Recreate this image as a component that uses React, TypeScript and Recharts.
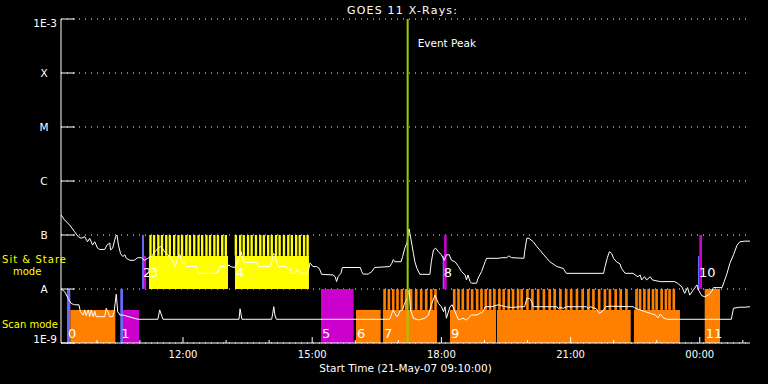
import React from 'react';
import {
  ComposedChart,
  Line,
  XAxis,
  YAxis,
  CartesianGrid,
  ReferenceArea,
  ReferenceLine,
} from 'recharts';

// time axis: minutes after 21-May-07 09:10:00
const hourTicks = [50, 110, 170, 230, 290, 350, 410, 470, 530, 590, 650, 710, 770, 830, 890, 950];
const hourLabels = ['', '', '12:00', '', '', '15:00', '', '', '18:00', '', '', '21:00', '', '', '00:00', ''];

const levelTicks = [1e-9, 1e-8, 1e-7, 1e-6, 1e-5, 1e-4, 1e-3];
const levelLabels = ['1E-9', 'A', 'B', 'C', 'M', 'X', '1E-3'];

const EVENT_PEAK = 483;

// 1-8 A channel
const longT = [
  0, 5, 12, 19, 24, 28, 33, 37, 40, 44, 47, 51, 54, 61, 64, 68, 69, 72, 76, 78, 80, 83, 86, 89, 91, 96,
  102, 107, 112, 116, 121, 126, 131, 135, 140, 144, 149, 155, 159, 161, 164, 166, 168, 172, 175, 189, 191,
  215, 219, 221, 226, 231, 234, 236, 242, 244, 248, 251, 253, 256, 273, 275, 291, 294, 296, 298, 300, 303,
  314, 317, 320, 321, 326, 328, 335, 342, 345, 347, 351, 356, 360, 363, 379, 382, 384, 386, 390, 392, 417,
  419, 421, 428, 433, 437, 458, 461, 463, 465, 474, 476, 479, 482, 484, 485, 489, 491, 493, 496, 500, 514,
  516, 519, 522, 526, 530, 534, 537, 541, 544, 549, 554, 558, 563, 565, 567, 570, 572, 579, 581, 586, 591,
  593, 609, 614, 621, 624, 628, 645, 646, 649, 652, 658, 663, 667, 672, 677, 681, 691, 700, 704, 756, 758,
  761, 764, 767, 770, 774, 779, 781, 786, 797, 801, 804, 807, 809, 813, 816, 821, 824, 835, 855, 859, 865,
  869, 873, 876, 881, 886, 889, 893, 897, 902, 907, 909, 921, 924, 928, 932, 937, 942, 946, 953, 960,
];
const longF = [
  2.35e-7, 1.9e-7, 1.53e-7, 1.15e-7, 9.3e-8, 8.7e-8, 9.3e-8, 7.5e-8, 8.7e-8, 6.5e-8, 7.5e-8, 5.7e-8, 5.4e-8,
  5.4e-8, 6.5e-8, 7.1e-8, 5.3e-8, 5.7e-8, 9.3e-8, 1.0e-7, 6.5e-8, 4.5e-8, 4.0e-8, 4.3e-8, 3.7e-8, 3.4e-8,
  3.4e-8, 3.8e-8, 3.8e-8, 3.4e-8, 3.7e-8, 4.0e-8, 4.9e-8, 5.7e-8, 6.2e-8, 4.9e-8, 4.3e-8, 3.4e-8, 2.6e-8,
  3.2e-8, 4.3e-8, 4.3e-8, 3.2e-8, 3.0e-8, 2.6e-8, 2.6e-8, 1.95e-8, 1.95e-8, 2.1e-8, 2.6e-8, 2.6e-8, 2.5e-8,
  2.8e-8, 2.6e-8, 2.5e-8, 2.8e-8, 3.7e-8, 4.9e-8, 3.7e-8, 3.1e-8, 3.1e-8, 2.6e-8, 2.6e-8, 3.4e-8, 4.6e-8,
  4.3e-8, 3.2e-8, 2.6e-8, 2.6e-8, 2.25e-8, 2.4e-8, 1.95e-8, 1.95e-8, 2.25e-8, 1.95e-8, 1.95e-8, 2.25e-8,
  3.05e-8, 2.6e-8, 2.6e-8, 2.4e-8, 1.87e-8, 1.82e-8, 1.69e-8, 1.37e-8, 1.69e-8, 1.95e-8, 2.5e-8, 2.5e-8,
  2.1e-8, 1.89e-8, 1.89e-8, 2.1e-8, 2.5e-8, 2.6e-8, 3.0e-8, 3.5e-8, 3.2e-8, 3.2e-8, 4.0e-8, 5.7e-8, 7.1e-8,
  1.1e-7, 1.3e-7, 6.5e-8, 4.6e-8, 3.2e-8, 2.4e-8, 1.87e-8, 1.87e-8, 3.2e-8, 5.3e-8, 5.7e-8, 4.9e-8, 4.3e-8,
  3.4e-8, 4.3e-8, 4.3e-8, 3.4e-8, 3.2e-8, 2.6e-8, 2.1e-8, 1.82e-8, 1.47e-8, 1.82e-8, 1.37e-8, 1.28e-8,
  1.28e-8, 1.58e-8, 2.1e-8, 3.2e-8, 3.7e-8, 3.7e-8, 3.8e-8, 3.8e-8, 4.1e-8, 3.8e-8, 3.7e-8, 4.9e-8, 8.7e-8,
  8.7e-8, 7.5e-8, 6.1e-8, 5.3e-8, 4.4e-8, 3.7e-8, 3.2e-8, 2.6e-8, 2.4e-8, 1.95e-8, 1.95e-8, 2.6e-8, 3.7e-8,
  4.9e-8, 4.6e-8, 3.7e-8, 3.2e-8, 2.9e-8, 2.4e-8, 1.95e-8, 1.95e-8, 1.78e-8, 1.69e-8, 1.82e-8, 1.47e-8,
  1.69e-8, 1.47e-8, 1.69e-8, 1.47e-8, 1.37e-8, 1.37e-8, 1.28e-8, 1.1e-8, 8.3e-9, 1.06e-8, 7.7e-9, 9.6e-9,
  1.19e-8, 9.2e-9, 7.5e-9, 7.2e-9, 7.7e-9, 9.2e-9, 1.06e-8, 1.06e-8, 1.37e-8, 1.95e-8, 3.0e-8, 4.3e-8,
  6.5e-8, 7.5e-8, 7.7e-8, 7.7e-8,
];

// 0.5-4 A channel
const shortT = [
  0, 5, 10, 14, 19, 25, 27, 31, 33, 35, 38, 40, 42, 45, 47, 49, 61, 63, 66, 68, 72, 74, 77, 79, 82, 86, 107,
  135, 137.5, 140, 142, 248, 249.5, 251, 252, 293.5, 295, 296.5, 298, 300, 458, 461, 463, 465, 468, 470, 472,
  476, 478, 480, 482, 485, 487, 491, 498, 507, 512, 516, 521, 526, 530, 533, 535, 537, 542, 545, 549, 554,
  560, 565, 572, 579, 584, 588, 591, 600, 609, 619, 628, 641, 646, 649, 653, 656, 658, 691, 693, 695, 700,
  704, 732, 735, 737, 746, 750, 755, 759, 765, 797, 800, 807, 814, 821, 828, 832, 835, 839, 844, 934, 937,
  946, 953, 960,
];
const shortF = [
  1.0e-8, 9.0e-9, 6.7e-9, 5.4e-9, 5.1e-9, 5.1e-9, 3.8e-9, 3.3e-9, 4.1e-9, 3.2e-9, 4.1e-9, 3.07e-9, 4.1e-9,
  3.07e-9, 3.9e-9, 3.07e-9, 3.07e-9, 4.4e-9, 3.6e-9, 3.07e-9, 3.07e-9, 3.8e-9, 8.0e-9, 3.8e-9, 3.3e-9,
  3.3e-9, 2.75e-9, 2.75e-9, 4.1e-9, 3.3e-9, 2.75e-9, 2.75e-9, 4.3e-9, 3.3e-9, 2.75e-9, 2.75e-9, 3.55e-9,
  4.7e-9, 3.3e-9, 2.75e-9, 2.75e-9, 3.55e-9, 4.1e-9, 3.55e-9, 3.07e-9, 3.3e-9, 3.9e-9, 4.1e-9, 5.1e-9,
  5.8e-9, 6.7e-9, 9.6e-9, 4.1e-9, 2.87e-9, 2.67e-9, 2.87e-9, 3.3e-9, 5.1e-9, 7.7e-9, 5.4e-9, 4.7e-9, 3.8e-9,
  4.7e-9, 2.87e-9, 4.7e-9, 5.1e-9, 3.8e-9, 2.67e-9, 2.87e-9, 2.67e-9, 3.3e-9, 3.3e-9, 3.55e-9, 3.8e-9,
  4.7e-9, 4.7e-9, 5.1e-9, 4.7e-9, 4.55e-9, 4.7e-9, 4.7e-9, 6.7e-9, 6.7e-9, 5.8e-9, 4.7e-9, 4.7e-9, 4.3e-9,
  4.55e-9, 4.4e-9, 4.7e-9, 4.7e-9, 4.3e-9, 4.7e-9, 4.3e-9, 3.55e-9, 3.9e-9, 4.7e-9, 4.8e-9, 4.7e-9, 4.4e-9,
  4.1e-9, 3.8e-9, 3.55e-9, 3.3e-9, 2.94e-9, 3.45e-9, 2.94e-9, 2.75e-9, 2.75e-9, 4.4e-9, 4.6e-9, 4.6e-9,
  4.7e-9,
];

// observing blocks
const blockStart = [8.4, 13, 82.6, 86.4, 362.3, 411, 448.6, 542, 607.5, 798.3, 896.9, 112.9, 115.6, 122.6, 242.4, 531.8, 533.7, 887.5, 889.3];
const blockEnd = [13, 75.7, 86.4, 108.7, 407.8, 445.4, 523.9, 606.1, 793.8, 862.4, 918.2, 115.6, 118.4, 232.7, 345.5, 533.7, 537.4, 889.3, 893.1];
const blockMode = ['scan', 'scan', 'scan', 'scan', 'scan', 'scan', 'scan', 'scan', 'scan', 'scan', 'scan', 'stare', 'stare', 'stare', 'stare', 'stare', 'stare', 'stare', 'stare'];
const blockKind = ['blue', 'orange', 'blue', 'magenta', 'magenta', 'orange', 'orange', 'orange', 'orange', 'orange', 'orange', 'blue', 'magenta', 'yellow', 'yellow', 'blue', 'magenta', 'blue', 'magenta'];
const blockTall = [true, false, true, false, true, false, false, false, false, false, true, true, false, false, false, false, true, false, true];
const blockLabel = ['0', '', '1', '', '5', '6', '7', '9', '', '', '11', '2', '', '3', '4', '8', '', '10', ''];

// single exposures (start minute)
const stareExposures = [
  123, 128, 134, 139, 145, 150, 156, 162, 167, 173, 178, 184, 190, 195, 201, 206, 212, 217, 223, 228,
  242, 248, 253, 259, 264, 270, 276, 281, 287, 292, 298, 303, 309, 315, 320, 326, 331, 337, 342,
];
const scanExposures = [
  449, 455, 461, 467, 473, 479, 486, 493, 500, 507, 514, 520,
  546, 552, 558, 565, 571, 578, 584, 590, 596, 602, 609, 615, 622, 628, 635, 640, 648, 655, 663, 671, 679,
  686, 694, 702, 709, 717, 725, 733, 740, 748, 756, 763, 771, 778, 786, 800, 805, 811, 817, 823, 828, 835,
  841, 846, 852,
];

const COLORS: Record<string, string> = {
  blue: '#6a6aff',
  magenta: '#cc00cc',
  orange: '#ff8000',
  yellow: '#ffff00',
};
const BAND_BASE: Record<string, number> = { scan: 1e-9, stare: 1e-8 };
const BAND_MID: Record<string, number> = { scan: 4.1e-9, stare: 4.1e-8 };
const BAND_TOP: Record<string, number> = { scan: 1e-8, stare: 1e-7 };

const FONT = '"DejaVu Sans", sans-serif';

function BottomTick(props: any) {
  const { x, y, payload } = props;
  const label = hourLabels[hourTicks.indexOf(payload.value)];
  const len = label ? 6 : 3;
  return (
    <g>
      <line x1={x} y1={y} x2={x} y2={y - len} stroke="#fff" />
      {label && (
        <text x={x} y={y + 15} textAnchor="middle" fill="#fff" fontSize={10} fontFamily={FONT}>
          {label}
        </text>
      )}
    </g>
  );
}

function TopTick(props: any) {
  const { x, y, payload } = props;
  const label = hourLabels[hourTicks.indexOf(payload.value)];
  const len = label ? 6 : 3;
  return <line x1={x} y1={y} x2={x} y2={y + len} stroke="#fff" />;
}

function LeftTick(props: any) {
  const { x, y, payload } = props;
  const i = levelTicks.indexOf(payload.value);
  const label = levelLabels[i];
  const numeric = label.startsWith('1E');
  let ty = y + 4;
  if (label === '1E-3') ty = y + 8;
  if (label === '1E-9') ty = y;
  return (
    <g>
      <line x1={x} y1={y} x2={x + 14} y2={y} stroke="#fff" />
      <text
        x={numeric ? x - 4 : x - 17}
        y={ty}
        textAnchor={numeric ? 'end' : 'middle'}
        fill="#ffffff"
        fontSize={10.5}
        fontFamily={FONT}
      >
        {label}
      </text>
    </g>
  );
}

function RightTick(props: any) {
  const { x, y } = props;
  return <line x1={x} y1={y} x2={x - 14} y2={y} stroke="#fff" />;
}

const numberLabel = (text: string, mode: string) => (props: any) => {
  const vb = props.viewBox;
  if (!vb || !text) return null;
  return (
    <text
      x={vb.x + 1}
      y={vb.y + vb.height - (mode === 'scan' ? 5 : 12)}
      fill="#fff"
      fontSize={13}
      fontFamily={FONT}
    >
      {text}
    </text>
  );
};

export default function App() {
  const longData = longT.map((t, i) => ({ t, f: longF[i] }));
  const shortData = shortT.map((t, i) => ({ t, f: shortF[i] }));

  return (
    <div style={{ position: 'absolute', left: 0, top: 0, width: 768, height: 384, background: '#000', overflow: 'hidden' }}>
      <ComposedChart width={768} height={384} margin={{ top: 19, right: 18, bottom: 0, left: 0 }}>
        <CartesianGrid vertical={false} stroke="#fff" strokeDasharray="1 5" />
        <XAxis
          dataKey="t"
          type="number"
          domain={[0, 960]}
          ticks={hourTicks}
          interval={0}
          height={41}
          tickSize={0}
          tickMargin={0}
          stroke="#fff"
          tick={(p: any) => <BottomTick {...p} />}
          allowDataOverflow
          label={{ value: 'Start Time (21-May-07 09:10:00)', position: 'insideBottom', offset: 12, fill: '#fff', fontSize: 10.5, fontFamily: FONT }}
        />
        <XAxis
          xAxisId="top"
          orientation="top"
          dataKey="t"
          type="number"
          domain={[0, 960]}
          ticks={hourTicks}
          interval={0}
          height={0}
          tickSize={0}
          tickMargin={0}
          stroke="#fff"
          tick={(p: any) => <TopTick {...p} />}
          allowDataOverflow
        />
        <YAxis
          type="number"
          scale="log"
          domain={[1e-9, 1e-3]}
          ticks={levelTicks}
          interval={0}
          width={61}
          tickSize={0}
          tickMargin={0}
          stroke="#fff"
          tick={(p: any) => <LeftTick {...p} />}
          allowDataOverflow
        />
        <YAxis
          yAxisId="right"
          orientation="right"
          type="number"
          scale="log"
          domain={[1e-9, 1e-3]}
          ticks={levelTicks}
          interval={0}
          width={0}
          tickSize={0}
          tickMargin={0}
          stroke="#fff"
          tick={(p: any) => <RightTick {...p} />}
          allowDataOverflow
        />

        {blockStart.map((s, i) => (
          <ReferenceArea
            key={`b${i}`}
            x1={s}
            x2={blockEnd[i]}
            y1={BAND_BASE[blockMode[i]]}
            y2={blockTall[i] ? BAND_TOP[blockMode[i]] : BAND_MID[blockMode[i]]}
            fill={COLORS[blockKind[i]]}
            fillOpacity={1}
            stroke="none"
          />
        ))}
        {stareExposures.map((s, i) => (
          <ReferenceArea
            key={`y${i}`}
            x1={s}
            x2={s + 3.3}
            y1={BAND_MID.stare}
            y2={BAND_TOP.stare}
            fill={COLORS.yellow}
            fillOpacity={1}
            stroke="none"
          />
        ))}
        {scanExposures.map((s, i) => (
          <ReferenceArea
            key={`o${i}`}
            x1={s}
            x2={s + 3.7}
            y1={BAND_MID.scan}
            y2={BAND_TOP.scan}
            fill={COLORS.orange}
            fillOpacity={1}
            stroke="none"
          />
        ))}
        {/* block numbers, drawn after all fills so none get covered */}
        {blockStart.map((s, i) =>
          blockLabel[i] ? (
            <ReferenceArea
              key={`l${i}`}
              x1={s}
              x2={blockEnd[i]}
              y1={BAND_BASE[blockMode[i]]}
              y2={BAND_MID[blockMode[i]]}
              fillOpacity={0}
              stroke="none"
              label={numberLabel(blockLabel[i], blockMode[i])}
            />
          ) : null
        )}

        <Line data={longData} dataKey="f" type="linear" stroke="#fff" strokeWidth={1} dot={false} isAnimationActive={false} />
        <Line data={shortData} dataKey="f" type="linear" stroke="#fff" strokeWidth={1} dot={false} isAnimationActive={false} />

        <ReferenceLine
          x={EVENT_PEAK}
          stroke="#99cc00"
          strokeWidth={2}
          label={(p: any) => (
            <text x={p.viewBox.x + 10} y={p.viewBox.y + 28} fill="#fff" fontSize={10.5} fontFamily={FONT}>
              Event Peak
            </text>
          )}
        />
      </ComposedChart>

      <svg width={768} height={384} style={{ position: 'absolute', left: 0, top: 0, pointerEvents: 'none' }}>
        <text x={402} y={13.5} textAnchor="middle" fill="#fff" fontSize={11} fontFamily={FONT} textLength={110} lengthAdjust="spacing">
          GOES 11 X-Rays:
        </text>
        <text x={2} y={262.5} fill="#ffff00" fontSize={10} fontFamily={FONT} textLength={64} lengthAdjust="spacing">
          Sit &amp; Stare
        </text>
        <text x={13} y={274.5} fill="#ffff00" fontSize={10} fontFamily={FONT}>
          mode
        </text>
        <text x={2} y={327.5} fill="#ffff00" fontSize={10} fontFamily={FONT}>
          Scan mode
        </text>
      </svg>
    </div>
  );
}
